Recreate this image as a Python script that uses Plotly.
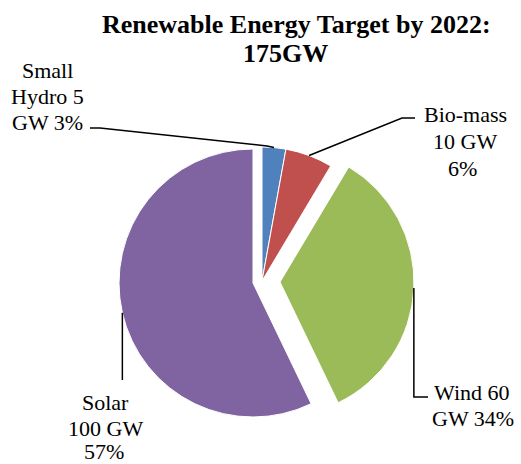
import math
import plotly.graph_objects as go

# ---- data ----
labels = ["Small Hydro", "Bio-mass", "Wind", "Solar"]
values = [5, 10, 60, 100]
label_templates = ["Small<br>Hydro {v}<br>GW {p}%",
                   "Bio-mass<br>{v} GW<br>{p}%",
                   "Wind {v}<br>GW {p}%",
                   "Solar<br>{v} GW<br>{p}%"]
colors = ["#4F81BD", "#C0504D", "#9BBB59", "#8064A2"]
title_text = "Renewable Energy Target by 2022:<br>175GW"

# ---- layout helpers (pixels -> paper) ----
W, H = 521, 464
R = 134
def px(x): return x / W
def py(y): return 1 - y / H

total = sum(values)
pcts = [round(v / total * 100) for v in values]
cum = [sum(values[:i]) for i in range(len(values))]
mid_angles = [(c + v / 2) / total * 2 * math.pi for c, v in zip(cum, values)]

# slice groups and their (exploded) centres in pixels
groups = [([3], (253, 283)), ([0, 1], (262, 281)), ([2], (280, 282))]
centre_of = {}
fig = go.Figure()
for idx, (cx, cy) in groups:
    for i in idx:
        centre_of[i] = (cx, cy)
    cols = [colors[i] if i in idx else "rgba(0,0,0,0)" for i in range(len(values))]
    lws = [1 if i in idx else 0 for i in range(len(values))]
    fig.add_trace(go.Pie(
        labels=labels, values=values, sort=False, direction="clockwise", rotation=0,
        marker=dict(colors=cols, line=dict(color="white", width=lws)),
        textinfo="none", hoverinfo="label+value+percent", showlegend=False,
        domain=dict(x=[px(cx - R), px(cx + R)], y=[py(cy + R), py(cy - R)]),
    ))

def anchor(i):
    cx, cy = centre_of[i]
    a = mid_angles[i]
    return (cx + R * math.sin(a), cy - R * math.cos(a))

# leader lines: label side kinks + anchor on slice arc
ah, ab, aw, as_ = anchor(0), anchor(1), anchor(2), anchor(3)
paths = [
    [(90, 128), (100, 128), (267, 146), ah],
    [(415, 118), (402, 118), ab],
    [aw, (aw[0], 397), (428, 397)],
    [as_, (as_[0], 380)],
]
shapes = []
for pts in paths:
    d = "M " + " L ".join(f"{px(x):.5f},{py(y):.5f}" for x, y in pts)
    shapes.append(dict(type="path", xref="paper", yref="paper", path=d,
                       line=dict(color="black", width=1.5)))

serif = "Times New Roman, Liberation Serif, serif"
# per-line positions (centre x, centre y) in pixels for each label
line_pos = [
    [(47.5, 70.5), (47.5, 96.5), (47.5, 122)],
    [(465, 114), (465, 141.5), (462, 168.5)],
    [(472, 392), (472.5, 418.5)],
    [(105, 402), (105, 428), (104, 451)],
]
annotations = []
for i, positions in enumerate(line_pos):
    lines = label_templates[i].format(v=values[i], p=pcts[i]).split("<br>")
    for line, (x, y) in zip(lines, positions):
        annotations.append(dict(
            text=line, x=px(x), y=py(y), xref="paper", yref="paper",
            xanchor="center", yanchor="middle", align="center", showarrow=False,
            font=dict(family=serif, size=22, color="black")))

title_lines = title_text.split("<br>")
for line, (x, y) in zip(title_lines, [(296, 24.5), (285, 53.5)]):
    annotations.append(dict(
        text="<b>" + line + "</b>", x=px(x), y=py(y), xref="paper", yref="paper",
        xanchor="center", yanchor="middle", align="center", showarrow=False,
        font=dict(family=serif, size=26, color="black")))

fig.update_layout(
    width=W, height=H, margin=dict(l=0, r=0, t=0, b=0),
    paper_bgcolor="white", plot_bgcolor="white",
    shapes=shapes, annotations=annotations,
)
fig.write_html("out.html")
